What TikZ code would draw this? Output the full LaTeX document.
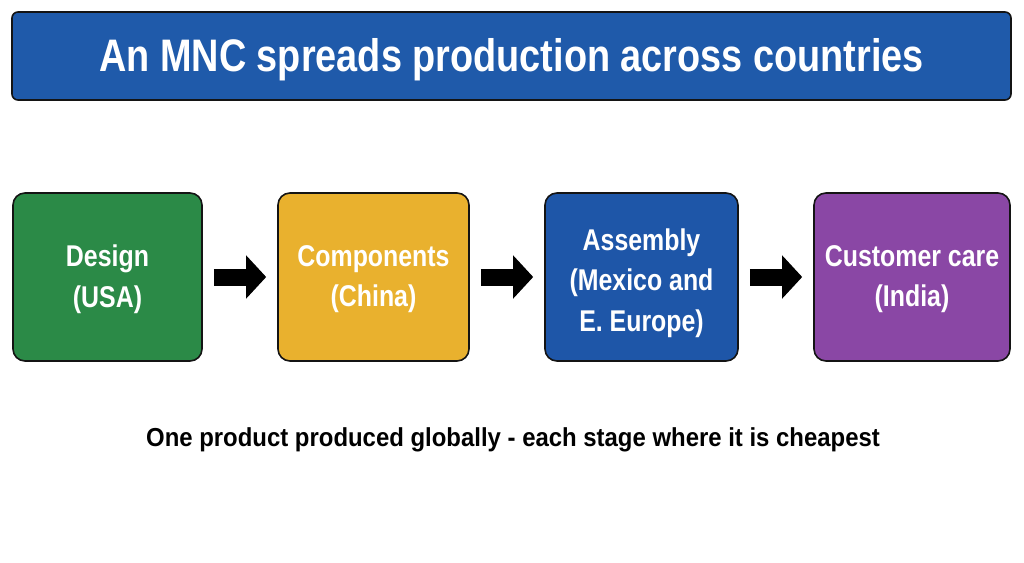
\documentclass[tikz,border=0pt]{standalone}
\usepackage{fontspec}
\setmainfont{Liberation Sans}
\newfontfamily\condfont[FakeStretch=0.83]{Liberation Sans}
\newfontfamily\capfont[FakeStretch=0.92]{Liberation Sans}
\usetikzlibrary{arrows.meta}
\definecolor{titleblue}{HTML}{1F5AAA}
\definecolor{boxgreen}{HTML}{2B8A47}
\definecolor{boxyellow}{HTML}{E9B12E}
\definecolor{boxblue}{HTML}{1E56A8}
\definecolor{boxpurple}{HTML}{8A47A5}
\definecolor{edge}{HTML}{141414}
\tikzset{
  stagebox/.style={draw=edge, line width=1.6pt, rounded corners=12pt, minimum height=168pt, inner sep=0pt},
  stagetext/.style={text=white, align=center, font=\condfont\bfseries\fontsize{30}{40.5}\selectfont, inner sep=0pt},
  blockarrow/.style={line width=17pt, draw=black, -{Triangle[length=20pt,width=42pt]},
    shorten <=11pt, shorten >=11pt},
}
\begin{document}
\begin{tikzpicture}[x=1pt,y=-1pt]
\useasboundingbox (0,0) rectangle (1024,562);
\node[draw=edge, line width=1.6pt, rounded corners=6pt, fill=titleblue, minimum width=999pt,
  minimum height=88pt, inner sep=0pt] (title) at (511.5,56) {};
\node[text=white, inner sep=0pt, font=\condfont\bfseries\fontsize{45.6}{50}\selectfont]
  (titletext) at ([yshift=-4pt]title.center) {An MNC spreads production across countries};
\node[stagebox, fill=boxgreen, minimum width=189pt] (g) at (107.5,277) {};
\node[stagebox, fill=boxyellow, minimum width=191pt] (y) at (373.5,277) {};
\node[stagebox, fill=boxblue, minimum width=193pt] (b) at (641.5,277) {};
\node[stagebox, fill=boxpurple, minimum width=196pt] (p) at (912,277) {};
\node[stagetext] (gt) at ([yshift=-2pt]g.center) {Design\\(USA)};
\node[stagetext] (yt) at ([yshift=-2pt]y.center) {Components\\(China)};
\node[stagetext] (bt) at ([yshift=-6pt]b.center) {Assembly\\(Mexico and\\E. Europe)};
\node[stagetext] (pt) at ([yshift=-2pt]p.center) {Customer care\\(India)};
\draw[blockarrow] (g.east) -- (y.west);
\draw[blockarrow] (y.east) -- (b.west);
\draw[blockarrow] (b.east) -- (p.west);
\node[font=\capfont\bfseries\fontsize{26}{30}\selectfont, text=black] (cap) at (513,440)
  {One product produced globally - each stage where it is cheapest};
\end{tikzpicture}
\end{document}
